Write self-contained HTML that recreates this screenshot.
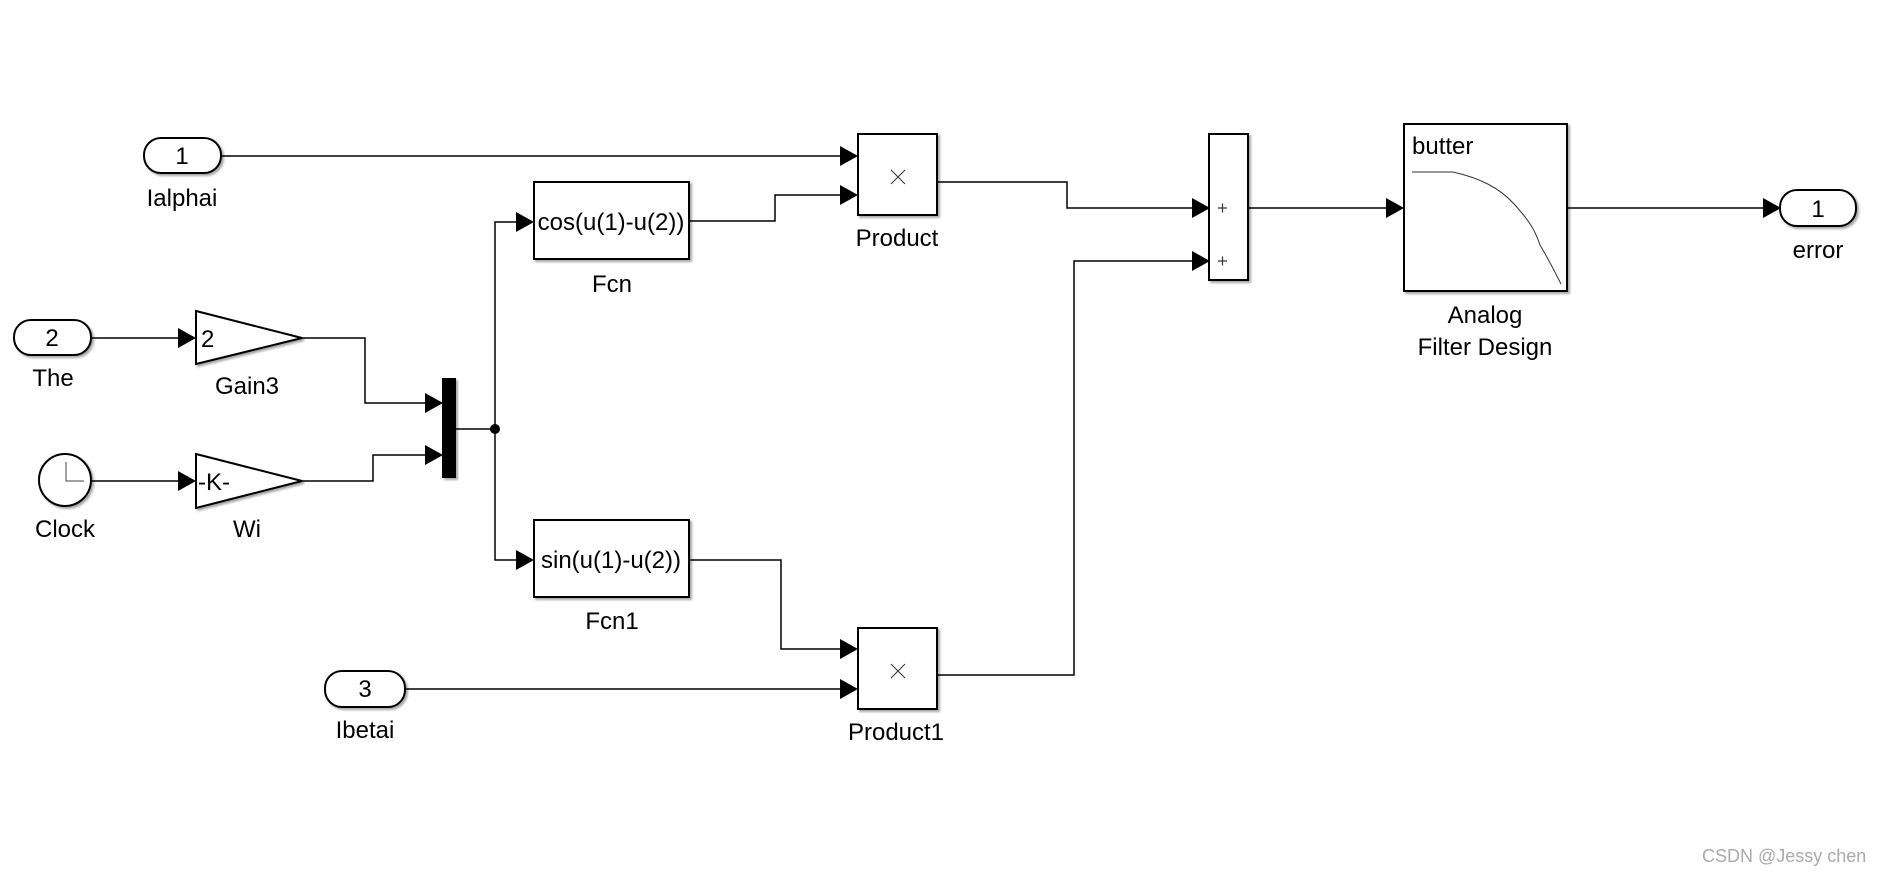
<!DOCTYPE html>
<html><head><meta charset="utf-8"><style>
html,body{margin:0;padding:0;background:#fff;}
svg{display:block;}
text{font-family:"Liberation Sans",Arial,sans-serif;fill:#000;}
</style></head><body>
<svg width="1886" height="878" viewBox="0 0 1886 878" xmlns="http://www.w3.org/2000/svg">
<defs>
<filter id="sh" x="-10%" y="-10%" width="130%" height="130%"><feDropShadow dx="2" dy="2" stdDeviation="1" flood-color="#000" flood-opacity="0.35"/></filter>
</defs>
<rect width="1886" height="878" fill="#fff"/>
<g fill="none" stroke="#000" stroke-width="1.5">
<polyline points="221,156 842,156"/>
<polyline points="91,338 180,338"/>
<polyline points="92,481 180,481"/>
<polyline points="302,338 365,338 365,403 427,403"/>
<polyline points="302,481 373,481 373,455 427,455"/>
<polyline points="456,429 495,429"/>
<polyline points="518,222 495,222 495,560 518,560"/>
<polyline points="689,221 775,221 775,195 842,195"/>
<polyline points="937,182 1067,182 1067,208 1194,208"/>
<polyline points="937,675 1074,675 1074,261 1194,261"/>
<polyline points="1248,208 1388,208"/>
<polyline points="1567,208 1765,208"/>
<polyline points="689,560 781,560 781,649 842,649"/>
<polyline points="405,689 842,689"/>
</g>
<g fill="#000">
<polygon points="840,146 858,156 840,166"/>
<polygon points="840,185 858,195 840,205"/>
<polygon points="178,328 196,338 178,348"/>
<polygon points="178,471 196,481 178,491"/>
<polygon points="425,393 443,403 425,413"/>
<polygon points="425,445 443,455 425,465"/>
<polygon points="516,212 534,222 516,232"/>
<polygon points="516,550 534,560 516,570"/>
<polygon points="1192,198 1210,208 1192,218"/>
<polygon points="1192,251 1210,261 1192,271"/>
<polygon points="1386,198 1404,208 1386,218"/>
<polygon points="1763,198 1781,208 1763,218"/>
<polygon points="840,639 858,649 840,659"/>
<polygon points="840,679 858,689 840,699"/>
<circle cx="495" cy="429" r="5"/>
<rect x="442" y="378" width="14" height="100" filter="url(#sh)"/>
</g>
<g fill="#fff" stroke="#000" stroke-width="2" filter="url(#sh)">
<rect x="144" y="138" width="77" height="35" rx="17"/>
<rect x="14" y="320" width="77" height="35" rx="17"/>
<rect x="325" y="671" width="80" height="36" rx="17"/>
<rect x="1780" y="190" width="76" height="36" rx="17"/>
<circle cx="65" cy="480" r="26"/>
<polygon points="196,311 302,338 196,364"/>
<polygon points="196,454 302,481 196,508"/>
<rect x="534" y="182" width="155" height="77"/>
<rect x="534" y="520" width="155" height="77"/>
<rect x="858" y="134" width="79" height="81"/>
<rect x="858" y="628" width="79" height="81"/>
<rect x="1209" y="134" width="39" height="146"/>
<rect x="1404" y="124" width="163" height="167"/>
</g>
<g stroke="#000" fill="none">
<polyline points="66,462 66,481 84,481" stroke-width="1" stroke="#444"/>
<path d="M891,170 L905,184 M905,170 L891,184" stroke-width="1" stroke="#333"/>
<path d="M891,664 L905,678 M905,664 L891,678" stroke-width="1" stroke="#333"/>
<path d="M1218,208 h9 M1222.5,203.5 v9 M1218,261 h9 M1222.5,256.5 v9" stroke-width="1.2" stroke="#333"/>
<path d="M1412,172 L1453,172 C1480,178 1500,188 1515,205 C1530,222 1535,230 1540,245 C1550,262 1555,272 1561,284" stroke-width="1" stroke="#333"/>
</g>
<g font-size="24" text-anchor="middle">
<text x="182" y="164">1</text>
<text x="52" y="346">2</text>
<text x="365" y="697">3</text>
<text x="1818" y="217">1</text>
<text x="182" y="206">Ialphai</text>
<text x="53" y="386">The</text>
<text x="247" y="394">Gain3</text>
<text x="65" y="537">Clock</text>
<text x="247" y="537">Wi</text>
<text x="612" y="292">Fcn</text>
<text x="612" y="629">Fcn1</text>
<text x="897" y="246">Product</text>
<text x="896" y="740">Product1</text>
<text x="365" y="738">Ibetai</text>
<text x="1818" y="258">error</text>
<text x="1485" y="323">Analog</text>
<text x="1485" y="355">Filter Design</text>
<text x="611" y="230">cos(u(1)-u(2))</text>
<text x="611" y="568">sin(u(1)-u(2))</text>
</g>
<g font-size="24">
<text x="201" y="347">2</text>
<text x="198" y="490">-K-</text>
<text x="1412" y="154">butter</text>
</g>
<text x="1702" y="862" font-size="18" style="fill:#aaa">CSDN @Jessy  chen</text>
</svg>
</body></html>
